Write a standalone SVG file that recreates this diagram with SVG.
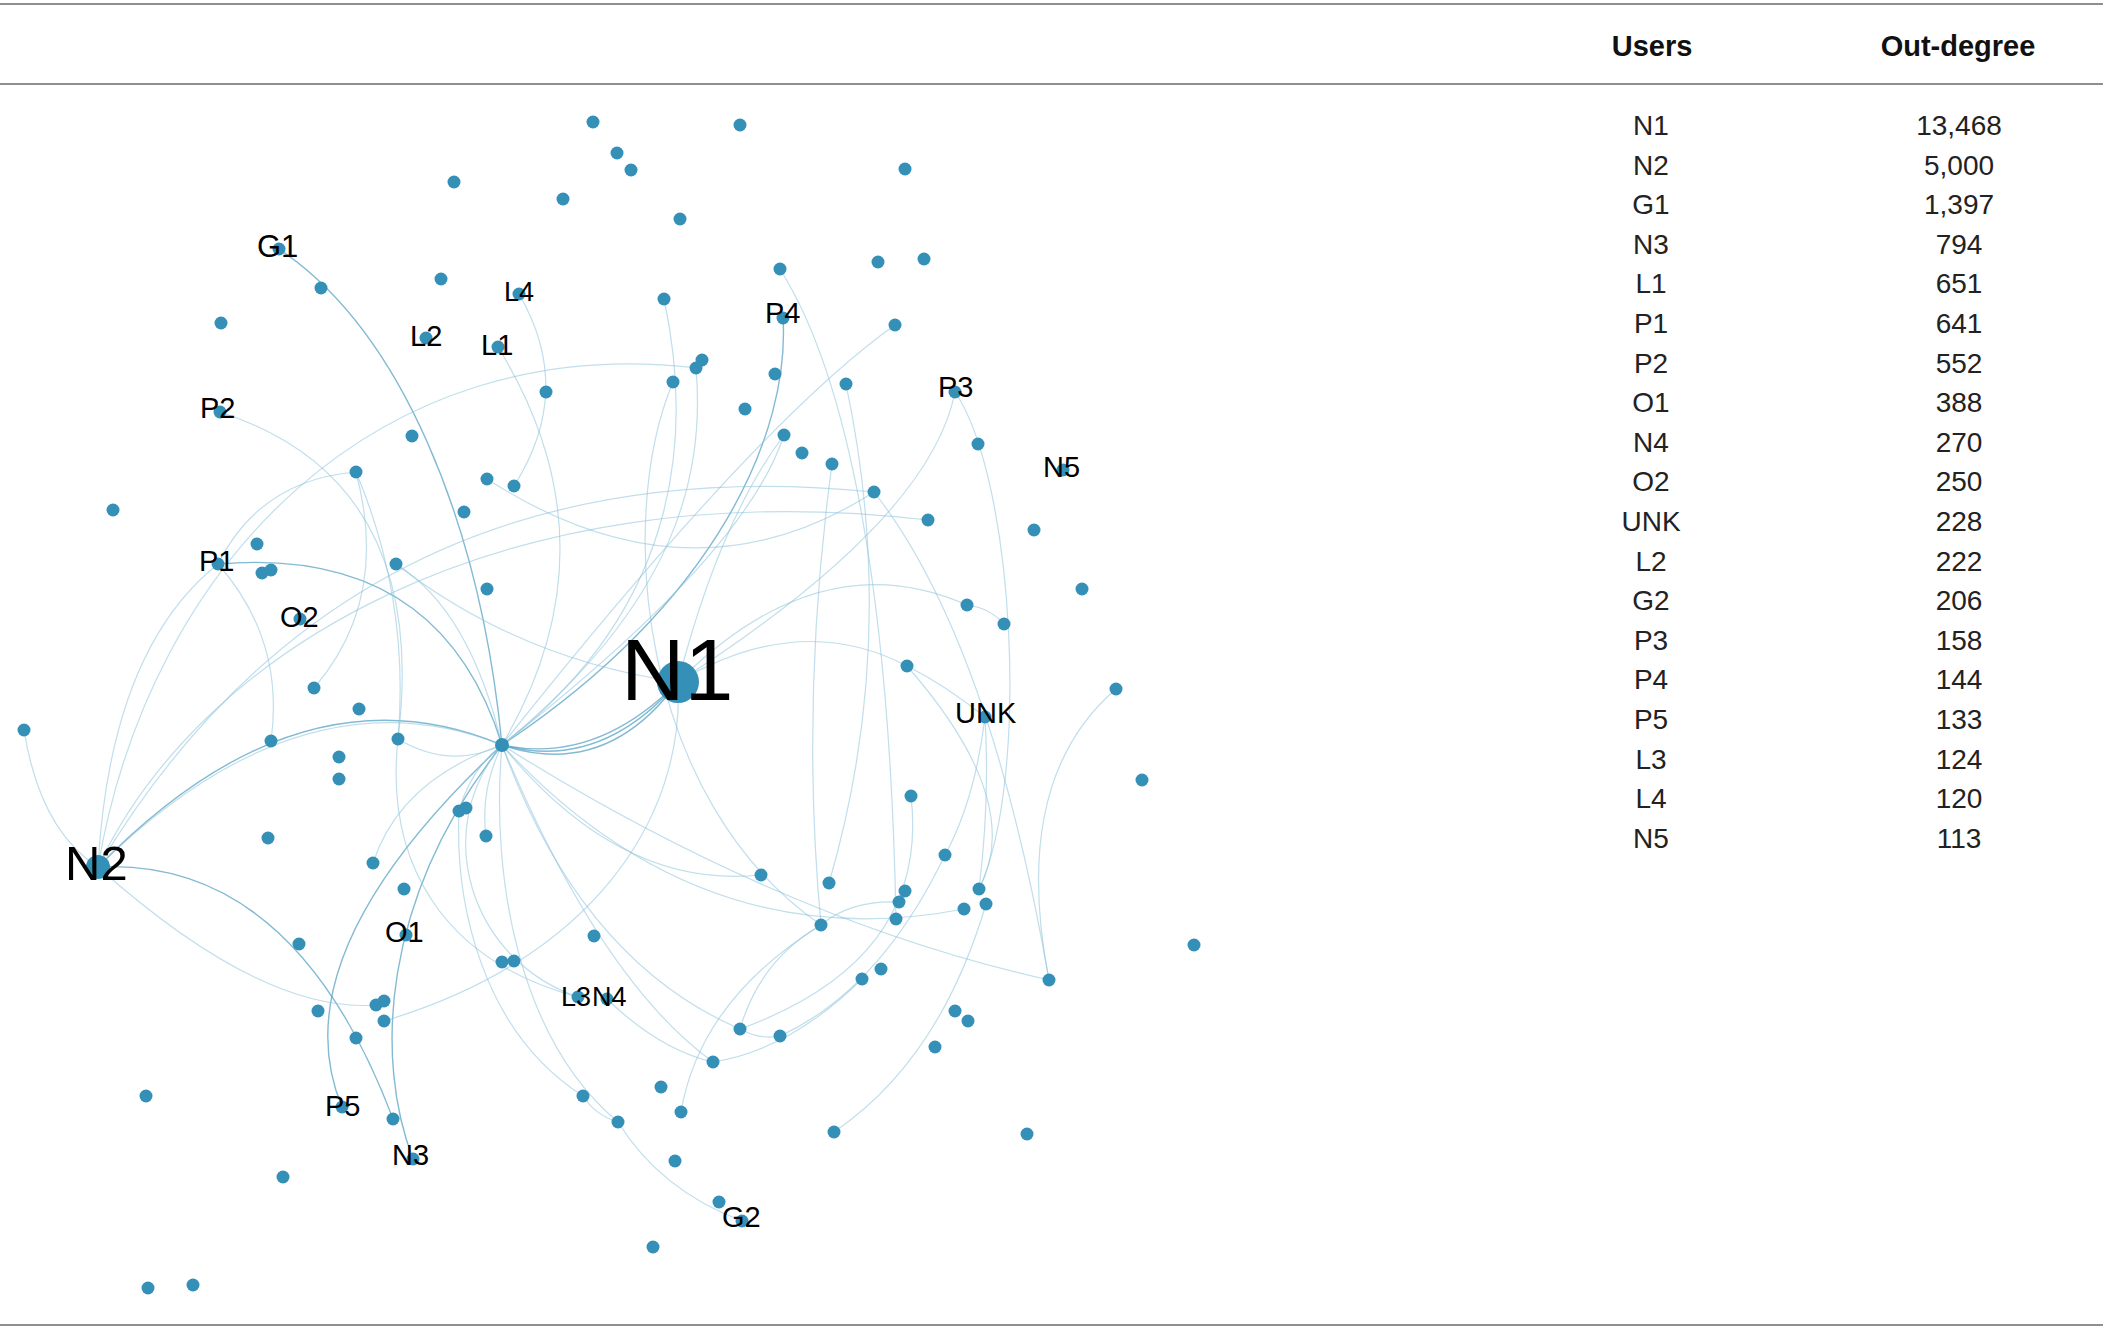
<svg xmlns="http://www.w3.org/2000/svg" width="2103" height="1340" viewBox="0 0 2103 1340">
<style>
.bg{fill:#ffffff}
.rule{stroke:#8f8f8f;stroke-width:2}
.e{fill:none;stroke:#8cc2da;stroke-width:1.2;opacity:0.55}
.s{fill:none;stroke:#5aa3c4;stroke-width:1.4;opacity:0.75}
.n{fill:#3590b8}
.lbl{font-family:"Liberation Sans",Arial,sans-serif;fill:#000;font-size:29px}
.th{font-family:"Liberation Sans",Arial,sans-serif;font-weight:bold;font-size:29px;fill:#111;text-anchor:middle}
.td{font-family:"Liberation Sans",Arial,sans-serif;font-size:28px;fill:#222;text-anchor:middle}
</style>
<rect class="bg" x="0" y="0" width="2103" height="1340"/>
<g id="table-rules">
<line class="rule" x1="0" y1="4" x2="2103" y2="4"/>
<line class="rule" x1="0" y1="84" x2="2103" y2="84"/>
<line class="rule" x1="0" y1="1325" x2="2103" y2="1325"/>
</g>
<g id="edges">
<path class="s" d="M678,682 Q600,772 502,745"/>
<path class="s" d="M678,682 Q596,765 502,745"/>
<path class="s" d="M678,682 Q606,780 502,745"/>
<path class="s" d="M98,867 Q300,660 502,745"/>
<path class="e" d="M98,867 Q302,666 502,745"/>
<path class="s" d="M279,249 C400,330 480,520 502,745"/>
<path class="s" d="M218,564 Q440,545 502,745"/>
<path class="e" d="M396,564 Q470,610 502,745"/>
<path class="s" d="M783,318 C790,430 720,600 502,745"/>
<path class="e" d="M664,299 C690,420 690,600 502,745"/>
<path class="e" d="M696,368 C705,470 680,600 502,745"/>
<path class="e" d="M784,435 Q745,555 502,745"/>
<path class="e" d="M498,347 Q620,545 502,745"/>
<path class="e" d="M895,325 Q760,420 502,745"/>
<path class="s" d="M342,1107 Q278,954 502,745"/>
<path class="s" d="M413,1159 C375,1060 380,900 502,745"/>
<path class="e" d="M502,745 Q400,780 373,863"/>
<path class="e" d="M502,745 Q470,770 459,811"/>
<path class="e" d="M502,745 Q480,790 486,836"/>
<path class="e" d="M502,745 Q620,890 761,875"/>
<path class="e" d="M502,745 Q700,960 964,909"/>
<path class="e" d="M502,745 Q780,920 1049,980"/>
<path class="e" d="M502,745 Q580,960 740,1029"/>
<path class="e" d="M502,745 Q600,980 713,1062"/>
<path class="e" d="M459,811 C455,900 480,1030 583,1096"/>
<path class="e" d="M502,745 C490,880 520,1040 618,1122"/>
<path class="e" d="M618,1122 Q660,1190 742,1221"/>
<path class="e" d="M583,1096 Q595,1115 618,1122"/>
<path class="e" d="M502,745 C430,830 470,960 578,997"/>
<path class="e" d="M398,739 C385,860 440,960 578,997"/>
<path class="e" d="M398,739 Q450,770 502,745"/>
<path class="e" d="M356,472 Q410,600 398,739"/>
<path class="e" d="M356,472 Q390,600 314,688"/>
<path class="e" d="M218,564 Q260,480 356,472"/>
<path class="e" d="M218,564 Q285,640 271,741"/>
<path class="e" d="M98,867 Q110,650 218,564"/>
<path class="e" d="M24,730 Q40,830 98,867"/>
<path class="e" d="M98,867 C150,560 380,330 696,368"/>
<path class="e" d="M98,867 Q354,440 874,492"/>
<path class="e" d="M98,867 C200,650 500,470 928,520"/>
<path class="s" d="M98,867 Q294,857 393,1119"/>
<path class="e" d="M98,867 Q263,1014 376,1005"/>
<path class="e" d="M487,479 Q690,610 874,492"/>
<path class="e" d="M396,564 Q520,660 678,682"/>
<path class="e" d="M678,682 Q820,540 967,605"/>
<path class="e" d="M967,605 Q990,608 1004,624"/>
<path class="e" d="M678,682 Q800,610 907,666"/>
<path class="e" d="M955,392 Q930,520 678,682"/>
<path class="e" d="M955,392 C1015,480 1030,780 979,889"/>
<path class="e" d="M907,666 Q945,685 985,717"/>
<path class="e" d="M907,666 Q1026,802 979,889"/>
<path class="e" d="M985,717 Q990,800 979,889"/>
<path class="e" d="M985,717 Q975,800 945,855"/>
<path class="e" d="M1116,689 Q1010,780 1049,980"/>
<path class="e" d="M911,796 Q930,960 740,1029"/>
<path class="e" d="M945,855 Q880,990 780,1036"/>
<path class="e" d="M740,1029 Q760,1040 780,1036"/>
<path class="e" d="M862,979 Q790,1050 713,1062"/>
<path class="e" d="M607,999 Q660,1050 713,1062"/>
<path class="e" d="M821,925 Q760,960 740,1029"/>
<path class="e" d="M899,902 Q850,900 821,925"/>
<path class="e" d="M821,925 Q700,1000 681,1112"/>
<path class="e" d="M834,1132 Q940,1060 986,904"/>
<path class="e" d="M780,269 C850,380 890,600 896,919"/>
<path class="e" d="M846,384 Q900,640 829,883"/>
<path class="e" d="M832,464 Q800,700 821,925"/>
<path class="e" d="M874,492 Q990,640 1049,980"/>
<path class="e" d="M673,382 C615,520 640,800 821,925"/>
<path class="e" d="M519,294 Q575,390 514,486"/>
<path class="e" d="M220,412 Q430,480 398,739"/>
<path class="e" d="M678,682 C685,820 590,960 384,1021"/>
<path class="e" d="M678,682 Q720,520 784,435"/>
</g>
<g id="nodes">
<g id="n1"><circle class="n" cx="593" cy="122" r="6.5"/></g>
<g id="n2"><circle class="n" cx="740" cy="125" r="6.5"/></g>
<g id="n3"><circle class="n" cx="617" cy="153" r="6.5"/></g>
<g id="n4"><circle class="n" cx="631" cy="170" r="6.5"/></g>
<g id="n5"><circle class="n" cx="905" cy="169" r="6.5"/></g>
<g id="n6"><circle class="n" cx="454" cy="182" r="6.5"/></g>
<g id="n7"><circle class="n" cx="563" cy="199" r="6.5"/></g>
<g id="n8"><circle class="n" cx="680" cy="219" r="6.5"/></g>
<g id="n9"><circle class="n" cx="780" cy="269" r="6.5"/></g>
<g id="n10"><circle class="n" cx="878" cy="262" r="6.5"/></g>
<g id="n11"><circle class="n" cx="924" cy="259" r="6.5"/></g>
<g id="n12"><circle class="n" cx="321" cy="288" r="6.5"/></g>
<g id="n13"><circle class="n" cx="441" cy="279" r="6.5"/></g>
<g id="n14"><circle class="n" cx="664" cy="299" r="6.5"/></g>
<g id="n15"><circle class="n" cx="221" cy="323" r="6.5"/></g>
<g id="n16"><circle class="n" cx="895" cy="325" r="6.5"/></g>
<g id="n17"><circle class="n" cx="702" cy="360" r="6.5"/></g>
<g id="n18"><circle class="n" cx="696" cy="368" r="6.5"/></g>
<g id="n19"><circle class="n" cx="775" cy="374" r="6.5"/></g>
<g id="n20"><circle class="n" cx="673" cy="382" r="6.5"/></g>
<g id="n21"><circle class="n" cx="846" cy="384" r="6.5"/></g>
<g id="n22"><circle class="n" cx="546" cy="392" r="6.5"/></g>
<g id="n23"><circle class="n" cx="745" cy="409" r="6.5"/></g>
<g id="n24"><circle class="n" cx="784" cy="435" r="6.5"/></g>
<g id="n25"><circle class="n" cx="412" cy="436" r="6.5"/></g>
<g id="n26"><circle class="n" cx="978" cy="444" r="6.5"/></g>
<g id="n27"><circle class="n" cx="802" cy="453" r="6.5"/></g>
<g id="n28"><circle class="n" cx="832" cy="464" r="6.5"/></g>
<g id="n29"><circle class="n" cx="356" cy="472" r="6.5"/></g>
<g id="n30"><circle class="n" cx="487" cy="479" r="6.5"/></g>
<g id="n31"><circle class="n" cx="514" cy="486" r="6.5"/></g>
<g id="n32"><circle class="n" cx="874" cy="492" r="6.5"/></g>
<g id="n33"><circle class="n" cx="113" cy="510" r="6.5"/></g>
<g id="n34"><circle class="n" cx="464" cy="512" r="6.5"/></g>
<g id="n35"><circle class="n" cx="928" cy="520" r="6.5"/></g>
<g id="n36"><circle class="n" cx="1034" cy="530" r="6.5"/></g>
<g id="n37"><circle class="n" cx="257" cy="544" r="6.5"/></g>
<g id="n38"><circle class="n" cx="262" cy="573" r="6.5"/></g>
<g id="n39"><circle class="n" cx="271" cy="570" r="6.5"/></g>
<g id="n40"><circle class="n" cx="396" cy="564" r="6.5"/></g>
<g id="n41"><circle class="n" cx="487" cy="589" r="6.5"/></g>
<g id="n42"><circle class="n" cx="1082" cy="589" r="6.5"/></g>
<g id="n43"><circle class="n" cx="967" cy="605" r="6.5"/></g>
<g id="n44"><circle class="n" cx="1004" cy="624" r="6.5"/></g>
<g id="n45"><circle class="n" cx="907" cy="666" r="6.5"/></g>
<g id="n46"><circle class="n" cx="314" cy="688" r="6.5"/></g>
<g id="n47"><circle class="n" cx="359" cy="709" r="6.5"/></g>
<g id="n48"><circle class="n" cx="1116" cy="689" r="6.5"/></g>
<g id="n49"><circle class="n" cx="24" cy="730" r="6.5"/></g>
<g id="hub"><circle class="n" cx="502" cy="745" r="7"/></g>
<g id="n50"><circle class="n" cx="271" cy="741" r="6.5"/></g>
<g id="n51"><circle class="n" cx="398" cy="739" r="6.5"/></g>
<g id="n52"><circle class="n" cx="339" cy="757" r="6.5"/></g>
<g id="n53"><circle class="n" cx="339" cy="779" r="6.5"/></g>
<g id="n54"><circle class="n" cx="1142" cy="780" r="6.5"/></g>
<g id="n55"><circle class="n" cx="911" cy="796" r="6.5"/></g>
<g id="n56"><circle class="n" cx="459" cy="811" r="6.5"/></g>
<g id="n57"><circle class="n" cx="466" cy="808" r="6.5"/></g>
<g id="n58"><circle class="n" cx="268" cy="838" r="6.5"/></g>
<g id="n59"><circle class="n" cx="486" cy="836" r="6.5"/></g>
<g id="n60"><circle class="n" cx="945" cy="855" r="6.5"/></g>
<g id="n61"><circle class="n" cx="373" cy="863" r="6.5"/></g>
<g id="n62"><circle class="n" cx="761" cy="875" r="6.5"/></g>
<g id="n63"><circle class="n" cx="829" cy="883" r="6.5"/></g>
<g id="n64"><circle class="n" cx="979" cy="889" r="6.5"/></g>
<g id="n65"><circle class="n" cx="404" cy="889" r="6.5"/></g>
<g id="n66"><circle class="n" cx="986" cy="904" r="6.5"/></g>
<g id="n67"><circle class="n" cx="905" cy="891" r="6.5"/></g>
<g id="n68"><circle class="n" cx="899" cy="902" r="6.5"/></g>
<g id="n69"><circle class="n" cx="964" cy="909" r="6.5"/></g>
<g id="n70"><circle class="n" cx="896" cy="919" r="6.5"/></g>
<g id="n71"><circle class="n" cx="821" cy="925" r="6.5"/></g>
<g id="n72"><circle class="n" cx="594" cy="936" r="6.5"/></g>
<g id="n73"><circle class="n" cx="299" cy="944" r="6.5"/></g>
<g id="n74"><circle class="n" cx="1194" cy="945" r="6.5"/></g>
<g id="n75"><circle class="n" cx="881" cy="969" r="6.5"/></g>
<g id="n76"><circle class="n" cx="862" cy="979" r="6.5"/></g>
<g id="n77"><circle class="n" cx="1049" cy="980" r="6.5"/></g>
<g id="n78"><circle class="n" cx="502" cy="962" r="6.5"/></g>
<g id="n79"><circle class="n" cx="514" cy="961" r="6.5"/></g>
<g id="n80"><circle class="n" cx="376" cy="1005" r="6.5"/></g>
<g id="n81"><circle class="n" cx="384" cy="1001" r="6.5"/></g>
<g id="n82"><circle class="n" cx="318" cy="1011" r="6.5"/></g>
<g id="n83"><circle class="n" cx="384" cy="1021" r="6.5"/></g>
<g id="n84"><circle class="n" cx="955" cy="1011" r="6.5"/></g>
<g id="n85"><circle class="n" cx="968" cy="1021" r="6.5"/></g>
<g id="n86"><circle class="n" cx="740" cy="1029" r="6.5"/></g>
<g id="n87"><circle class="n" cx="780" cy="1036" r="6.5"/></g>
<g id="n88"><circle class="n" cx="356" cy="1038" r="6.5"/></g>
<g id="n89"><circle class="n" cx="935" cy="1047" r="6.5"/></g>
<g id="n90"><circle class="n" cx="713" cy="1062" r="6.5"/></g>
<g id="n91"><circle class="n" cx="661" cy="1087" r="6.5"/></g>
<g id="n92"><circle class="n" cx="146" cy="1096" r="6.5"/></g>
<g id="n93"><circle class="n" cx="583" cy="1096" r="6.5"/></g>
<g id="n94"><circle class="n" cx="681" cy="1112" r="6.5"/></g>
<g id="n95"><circle class="n" cx="393" cy="1119" r="6.5"/></g>
<g id="n96"><circle class="n" cx="618" cy="1122" r="6.5"/></g>
<g id="n97"><circle class="n" cx="834" cy="1132" r="6.5"/></g>
<g id="n98"><circle class="n" cx="1027" cy="1134" r="6.5"/></g>
<g id="n99"><circle class="n" cx="675" cy="1161" r="6.5"/></g>
<g id="n100"><circle class="n" cx="283" cy="1177" r="6.5"/></g>
<g id="n101"><circle class="n" cx="719" cy="1202" r="6.5"/></g>
<g id="n102"><circle class="n" cx="653" cy="1247" r="6.5"/></g>
<g id="n103"><circle class="n" cx="148" cy="1288" r="6.5"/></g>
<g id="n104"><circle class="n" cx="193" cy="1285" r="6.5"/></g>
<g id="N1"><circle class="n" cx="678" cy="682" r="21"/><text class="lbl" x="621" y="700" style="font-size:88px">N1</text></g>
<g id="N2"><circle class="n" cx="98" cy="867" r="12"/><text class="lbl" x="65" y="880" style="font-size:49px">N2</text></g>
<g id="G1"><circle class="n" cx="279" cy="249" r="6.5"/><text class="lbl" x="257" y="257" style="font-size:31px">G1</text></g>
<g id="N3"><circle class="n" cx="413" cy="1159" r="6.5"/><text class="lbl" x="392" y="1165">N3</text></g>
<g id="L1"><circle class="n" cx="498" cy="347" r="6.5"/><text class="lbl" x="481" y="355">L1</text></g>
<g id="P1"><circle class="n" cx="218" cy="564" r="6.5"/><text class="lbl" x="199" y="571">P1</text></g>
<g id="P2"><circle class="n" cx="220" cy="412" r="6.5"/><text class="lbl" x="200" y="418">P2</text></g>
<g id="O1"><circle class="n" cx="406" cy="935" r="6.5"/><text class="lbl" x="385" y="942">O1</text></g>
<g id="N4"><circle class="n" cx="607" cy="999" r="6.5"/><text class="lbl" x="592" y="1006" style="font-size:27px">N4</text></g>
<g id="O2"><circle class="n" cx="300" cy="619" r="6.5"/><text class="lbl" x="280" y="627">O2</text></g>
<g id="UNK"><circle class="n" cx="985" cy="717" r="6.5"/><text class="lbl" x="955" y="723">UNK</text></g>
<g id="L2"><circle class="n" cx="426" cy="338" r="6.5"/><text class="lbl" x="410" y="346">L2</text></g>
<g id="G2"><circle class="n" cx="742" cy="1221" r="6.5"/><text class="lbl" x="722" y="1227">G2</text></g>
<g id="P3"><circle class="n" cx="955" cy="392" r="6.5"/><text class="lbl" x="938" y="397">P3</text></g>
<g id="P4"><circle class="n" cx="783" cy="318" r="6.5"/><text class="lbl" x="765" y="323">P4</text></g>
<g id="P5"><circle class="n" cx="342" cy="1107" r="6.5"/><text class="lbl" x="325" y="1116">P5</text></g>
<g id="L3"><circle class="n" cx="578" cy="997" r="6.5"/><text class="lbl" x="561" y="1006" style="font-size:27px">L3</text></g>
<g id="L4"><circle class="n" cx="519" cy="294" r="6.5"/><text class="lbl" x="504" y="301" style="font-size:27px">L4</text></g>
<g id="N5"><circle class="n" cx="1063" cy="470" r="6.5"/><text class="lbl" x="1043" y="477">N5</text></g>
</g>
<g id="table">
<text class="th" x="1652" y="56">Users</text>
<text class="th" x="1958" y="56">Out-degree</text>
<g id="col-users">
<text class="td" x="1651" y="135">N1</text>
<text class="td" x="1651" y="174.6">N2</text>
<text class="td" x="1651" y="214.2">G1</text>
<text class="td" x="1651" y="253.8">N3</text>
<text class="td" x="1651" y="293.4">L1</text>
<text class="td" x="1651" y="333">P1</text>
<text class="td" x="1651" y="372.6">P2</text>
<text class="td" x="1651" y="412.2">O1</text>
<text class="td" x="1651" y="451.8">N4</text>
<text class="td" x="1651" y="491.4">O2</text>
<text class="td" x="1651" y="531">UNK</text>
<text class="td" x="1651" y="570.6">L2</text>
<text class="td" x="1651" y="610.2">G2</text>
<text class="td" x="1651" y="649.8">P3</text>
<text class="td" x="1651" y="689.4">P4</text>
<text class="td" x="1651" y="729">P5</text>
<text class="td" x="1651" y="768.6">L3</text>
<text class="td" x="1651" y="808.2">L4</text>
<text class="td" x="1651" y="847.8">N5</text>
</g>
<g id="col-degree">
<text class="td" x="1959" y="135">13,468</text>
<text class="td" x="1959" y="174.6">5,000</text>
<text class="td" x="1959" y="214.2">1,397</text>
<text class="td" x="1959" y="253.8">794</text>
<text class="td" x="1959" y="293.4">651</text>
<text class="td" x="1959" y="333">641</text>
<text class="td" x="1959" y="372.6">552</text>
<text class="td" x="1959" y="412.2">388</text>
<text class="td" x="1959" y="451.8">270</text>
<text class="td" x="1959" y="491.4">250</text>
<text class="td" x="1959" y="531">228</text>
<text class="td" x="1959" y="570.6">222</text>
<text class="td" x="1959" y="610.2">206</text>
<text class="td" x="1959" y="649.8">158</text>
<text class="td" x="1959" y="689.4">144</text>
<text class="td" x="1959" y="729">133</text>
<text class="td" x="1959" y="768.6">124</text>
<text class="td" x="1959" y="808.2">120</text>
<text class="td" x="1959" y="847.8">113</text>
</g>
</g>
</svg>
